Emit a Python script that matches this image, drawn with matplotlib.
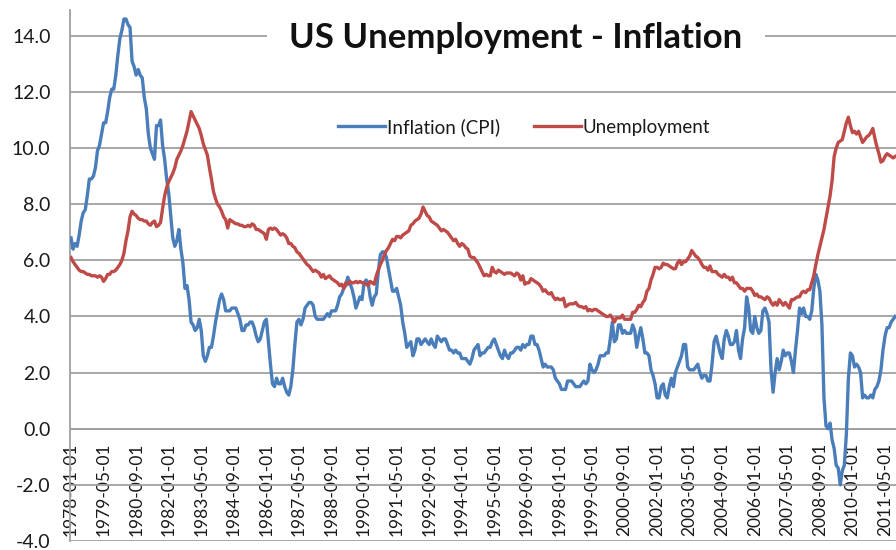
import matplotlib
matplotlib.use('Agg')
import matplotlib.pyplot as plt
import numpy as np

plt.rcParams['font.family'] = ['Lato', 'DejaVu Sans']
plt.rcParams['axes.unicode_minus'] = False

# Monthly series, 1978-01 .. 2011-10
inflation_cpi = [
    6.8, 6.4, 6.6, 6.5, 6.9, 7.4, 7.7, 7.8, 8.3, 8.9, 8.9, 9.0,          # 1978
    9.3, 9.9, 10.1, 10.5, 10.9, 10.9, 11.3, 11.8, 12.1, 12.1, 12.6, 13.3,  # 1979
    13.9, 14.2, 14.6, 14.6, 14.4, 14.3, 13.1, 12.9, 12.6, 12.8, 12.6, 12.5,  # 1980
    11.8, 11.4, 10.5, 10.0, 9.8, 9.6, 10.8, 10.8, 11.0, 10.1, 9.6, 8.9,   # 1981
    8.4, 7.6, 6.8, 6.5, 6.7, 7.1, 6.4, 5.9, 5.0, 5.1, 4.6, 3.8,           # 1982
    3.7, 3.5, 3.6, 3.9, 3.5, 2.6, 2.4, 2.6, 2.9, 2.9, 3.3, 3.8,           # 1983
    4.2, 4.6, 4.8, 4.6, 4.2, 4.2, 4.2, 4.3, 4.3, 4.3, 4.1, 3.9,           # 1984
    3.5, 3.5, 3.7, 3.7, 3.8, 3.8, 3.6, 3.3, 3.1, 3.2, 3.5, 3.8,           # 1985
    3.9, 3.1, 2.3, 1.6, 1.5, 1.8, 1.6, 1.6, 1.8, 1.5, 1.3, 1.2,           # 1986
    1.5, 2.1, 3.0, 3.8, 3.9, 3.7, 3.9, 4.3, 4.4, 4.5, 4.5, 4.4,           # 1987
    4.0, 3.9, 3.9, 3.9, 3.9, 4.0, 4.1, 4.0, 4.2, 4.2, 4.2, 4.4,           # 1988
    4.7, 4.8, 5.0, 5.1, 5.4, 5.2, 5.0, 4.7, 4.3, 4.5, 4.7, 4.6,           # 1989
    5.2, 5.3, 5.2, 4.7, 4.4, 4.7, 4.8, 5.6, 6.2, 6.3, 6.3, 6.1,           # 1990
    5.7, 5.3, 4.9, 4.9, 5.0, 4.7, 4.4, 3.8, 3.4, 2.9, 3.0, 3.1,           # 1991
    2.6, 2.8, 3.2, 3.2, 3.0, 3.1, 3.2, 3.1, 3.0, 3.2, 3.0, 2.9,           # 1992
    3.3, 3.2, 3.1, 3.2, 3.2, 3.0, 2.8, 2.8, 2.7, 2.8, 2.7, 2.7,           # 1993
    2.5, 2.5, 2.5, 2.4, 2.3, 2.5, 2.8, 2.9, 3.0, 2.6, 2.7, 2.7,           # 1994
    2.8, 2.9, 2.9, 3.1, 3.2, 3.0, 2.8, 2.6, 2.5, 2.8, 2.6, 2.5,           # 1995
    2.7, 2.7, 2.8, 2.9, 2.9, 2.8, 3.0, 2.9, 3.0, 3.0, 3.3, 3.3,           # 1996
    3.0, 3.0, 2.8, 2.5, 2.2, 2.3, 2.2, 2.2, 2.2, 2.1, 1.8, 1.7,           # 1997
    1.6, 1.4, 1.4, 1.4, 1.7, 1.7, 1.7, 1.6, 1.5, 1.5, 1.5, 1.6,           # 1998
    1.7, 1.6, 1.7, 2.3, 2.1, 2.0, 2.1, 2.3, 2.6, 2.6, 2.6, 2.7,           # 1999
    2.7, 3.2, 3.8, 3.1, 3.2, 3.7, 3.7, 3.4, 3.5, 3.4, 3.4, 3.4,           # 2000
    3.7, 3.5, 2.9, 3.3, 3.6, 3.2, 2.7, 2.7, 2.6, 2.1, 1.9, 1.6,           # 2001
    1.1, 1.1, 1.5, 1.6, 1.2, 1.1, 1.5, 1.8, 1.5, 2.0, 2.2, 2.4,           # 2002
    2.6, 3.0, 3.0, 2.2, 2.1, 2.1, 2.1, 2.2, 2.3, 2.0, 1.8, 1.9,           # 2003
    1.9, 1.7, 1.7, 2.3, 3.1, 3.3, 3.0, 2.7, 2.5, 3.2, 3.5, 3.3,           # 2004
    3.0, 3.0, 3.1, 3.5, 2.8, 2.5, 3.2, 3.6, 4.7, 4.3, 3.5, 3.4,           # 2005
    4.0, 3.6, 3.4, 3.5, 4.2, 4.3, 4.1, 3.8, 2.1, 1.3, 2.0, 2.5,           # 2006
    2.1, 2.4, 2.8, 2.6, 2.7, 2.7, 2.4, 2.0, 2.8, 3.5, 4.3, 4.1,           # 2007
    4.3, 4.0, 4.0, 3.9, 4.2, 5.0, 5.5, 5.3, 4.9, 3.7, 1.1, 0.1,           # 2008
    0.0, 0.2, -0.4, -0.7, -1.3, -1.4, -2.0, -1.5, -1.3, -0.2, 1.8, 2.7,   # 2009
    2.6, 2.2, 2.3, 2.2, 2.0, 1.1, 1.2, 1.1, 1.1, 1.2, 1.1, 1.4,           # 2010
    1.5, 1.7, 2.1, 2.8, 3.3, 3.6, 3.6, 3.8, 3.9, 4.0,                     # 2011
]

unemployment = [
    6.1, 5.95, 5.85, 5.75, 5.65, 5.6, 5.6, 5.55, 5.5, 5.5, 5.45, 5.45,       # 1978
    5.45, 5.4, 5.45, 5.4, 5.25, 5.35, 5.5, 5.5, 5.6, 5.6, 5.65, 5.75,        # 1979
    5.85, 6.0, 6.25, 6.7, 7.05, 7.55, 7.75, 7.65, 7.6, 7.5, 7.45, 7.45,      # 1980
    7.4, 7.4, 7.3, 7.25, 7.35, 7.4, 7.2, 7.25, 7.35, 7.85, 8.3, 8.6,         # 1981
    8.8, 8.95, 9.1, 9.3, 9.6, 9.75, 9.9, 10.1, 10.35, 10.6, 10.95, 11.3,     # 1982
    11.15, 11.0, 10.85, 10.7, 10.45, 10.15, 9.95, 9.75, 9.3, 8.9, 8.45, 8.2, # 1983
    8.0, 7.9, 7.75, 7.55, 7.45, 7.15, 7.45, 7.4, 7.35, 7.3, 7.3, 7.25,       # 1984
    7.25, 7.2, 7.2, 7.25, 7.2, 7.3, 7.25, 7.1, 7.1, 7.05, 7.0, 6.95,         # 1985
    6.75, 7.1, 7.15, 7.1, 7.15, 7.1, 7.0, 6.9, 6.95, 6.9, 6.8, 6.6,          # 1986
    6.6, 6.5, 6.45, 6.3, 6.25, 6.15, 6.05, 5.95, 5.85, 5.8, 5.7, 5.6,        # 1987
    5.65, 5.6, 5.55, 5.4, 5.5, 5.35, 5.4, 5.45, 5.35, 5.3, 5.25, 5.2,        # 1988
    5.1, 5.15, 5.0, 5.2, 5.15, 5.25, 5.2, 5.2, 5.25, 5.2, 5.25, 5.2,         # 1989
    5.2, 5.15, 5.1, 5.25, 5.2, 5.15, 5.45, 5.65, 5.85, 6.0, 6.2, 6.35,       # 1990
    6.45, 6.6, 6.75, 6.7, 6.85, 6.85, 6.8, 6.9, 6.95, 7.0, 7.05, 7.25,       # 1991
    7.3, 7.4, 7.45, 7.5, 7.65, 7.9, 7.75, 7.6, 7.55, 7.4, 7.35, 7.3,         # 1992
    7.25, 7.15, 7.05, 7.1, 7.05, 7.0, 6.9, 6.8, 6.7, 6.75, 6.6, 6.5,         # 1993
    6.6, 6.55, 6.45, 6.4, 6.15, 6.1, 6.1, 6.0, 5.9, 5.75, 5.6, 5.45,         # 1994
    5.5, 5.45, 5.45, 5.75, 5.6, 5.55, 5.65, 5.6, 5.55, 5.5, 5.55, 5.55,      # 1995
    5.55, 5.5, 5.45, 5.55, 5.5, 5.3, 5.45, 5.15, 5.2, 5.2, 5.35, 5.3,        # 1996
    5.25, 5.2, 5.15, 5.05, 4.9, 4.95, 4.85, 4.8, 4.85, 4.7, 4.6, 4.65,       # 1997
    4.6, 4.6, 4.65, 4.35, 4.4, 4.45, 4.45, 4.45, 4.5, 4.4, 4.35, 4.35,       # 1998
    4.3, 4.35, 4.2, 4.25, 4.2, 4.25, 4.25, 4.2, 4.15, 4.1, 4.05, 4.0,        # 1999
    4.0, 4.05, 3.95, 3.8, 3.95, 3.95, 3.95, 4.05, 3.9, 3.9, 3.9, 3.9,        # 2000
    4.15, 4.15, 4.25, 4.4, 4.35, 4.5, 4.6, 4.9, 5.0, 5.3, 5.5, 5.75,         # 2001
    5.75, 5.7, 5.75, 5.9, 5.85, 5.85, 5.8, 5.75, 5.7, 5.7, 5.9, 6.0,         # 2002
    5.85, 5.95, 5.95, 6.05, 6.15, 6.35, 6.25, 6.15, 6.1, 6.0, 5.85, 5.75,    # 2003
    5.75, 5.65, 5.8, 5.6, 5.6, 5.6, 5.5, 5.45, 5.4, 5.5, 5.4, 5.4,           # 2004
    5.3, 5.4, 5.2, 5.2, 5.1, 5.0, 5.0, 4.9, 5.0, 5.0, 5.0, 4.9,              # 2005
    4.75, 4.8, 4.7, 4.7, 4.65, 4.6, 4.7, 4.65, 4.5, 4.4, 4.5, 4.4,           # 2006
    4.6, 4.5, 4.4, 4.5, 4.4, 4.3, 4.6, 4.6, 4.65, 4.7, 4.7, 4.85,            # 2007
    4.9, 4.85, 4.95, 4.95, 5.2, 5.45, 5.85, 6.2, 6.5, 6.8, 7.1, 7.5,         # 2008
    7.9, 8.3, 8.85, 9.7, 10.0, 10.2, 10.25, 10.3, 10.6, 10.9, 11.1, 10.8,    # 2009
    10.55, 10.6, 10.5, 10.6, 10.4, 10.2, 10.3, 10.4, 10.45, 10.55, 10.7, 10.35,  # 2010
    10.05, 9.8, 9.5, 9.55, 9.7, 9.8, 9.75, 9.7, 9.65, 9.7,                   # 2011
]

tick_labels = [
    '1978-01-01', '1979-05-01', '1980-09-01', '1982-01-01', '1983-05-01',
    '1984-09-01', '1986-01-01', '1987-05-01', '1988-09-01', '1990-01-01',
    '1991-05-01', '1992-09-01', '1994-01-01', '1995-05-01', '1996-09-01',
    '1998-01-01', '1999-05-01', '2000-09-01', '2002-01-01', '2003-05-01',
    '2004-09-01', '2006-01-01', '2007-05-01', '2008-09-01', '2010-01-01',
    '2011-05-01',
]
y_ticks = [-4, -2, 0, 2, 4, 6, 8, 10, 12, 14]

months = np.arange(len(inflation_cpi))
tick_pos = months[::16][:len(tick_labels)]

BLUE = '#4a7ebb'
RED = '#be4b48'
GRID = '#a0a0a0'
TXT = '#1a1a1a'

W, H = 896, 550
fig = plt.figure(figsize=(W / 100, H / 100), dpi=100)
ax = fig.add_axes([70 / W, 9 / H, 1 - 70 / W, 531 / H])

for s in ['top', 'right']:
    ax.spines[s].set_visible(False)
ax.spines['left'].set_color(GRID)
ax.spines['left'].set_linewidth(1.3)
ax.spines['bottom'].set_position(('data', 0))
ax.spines['bottom'].set_color(GRID)
ax.spines['bottom'].set_linewidth(1.3)

ax.plot(months, inflation_cpi, color=BLUE, lw=2.4, label='Inflation (CPI)',
        solid_joinstyle='round', zorder=3)
ax.plot(months, unemployment, color=RED, lw=2.4, label='Unemployment',
        solid_joinstyle='round', zorder=4)

ax.set_xlim(-0.5, 405.4)
ax.set_ylim(-4, 14.92)

ax.set_yticks(y_ticks)
ax.set_yticklabels([f'{v:.1f}' for v in y_ticks])
ax.set_xticks(tick_pos)
ax.set_xticklabels(tick_labels)

ax.yaxis.grid(True, color=GRID, lw=1.3)
ax.set_axisbelow(True)

ax.tick_params(axis='y', length=0, pad=14, labelsize=14, labelcolor=TXT)
ax.tick_params(axis='x', length=0, pad=10, labelsize=12.5, labelcolor=TXT,
               labelrotation=90)
for lbl in ax.get_xticklabels():
    lbl.set_va('top')
    lbl.set_ha('center')

fig.text(516 / W, 1 - 38 / H, 'US Unemployment - Inflation', ha='center',
         va='center', fontsize=25, fontweight='bold', color='#111111',
         bbox=dict(facecolor='white', edgecolor='none', pad=16))

ax.legend(loc='center', bbox_to_anchor=(524 / W, 1 - 127 / H),
          bbox_transform=fig.transFigure, ncol=2, frameon=False, fontsize=13.5,
          handlelength=2.5, handletextpad=0.12, columnspacing=1.8,
          labelcolor=TXT)

fig.savefig('out.png', dpi=100)
